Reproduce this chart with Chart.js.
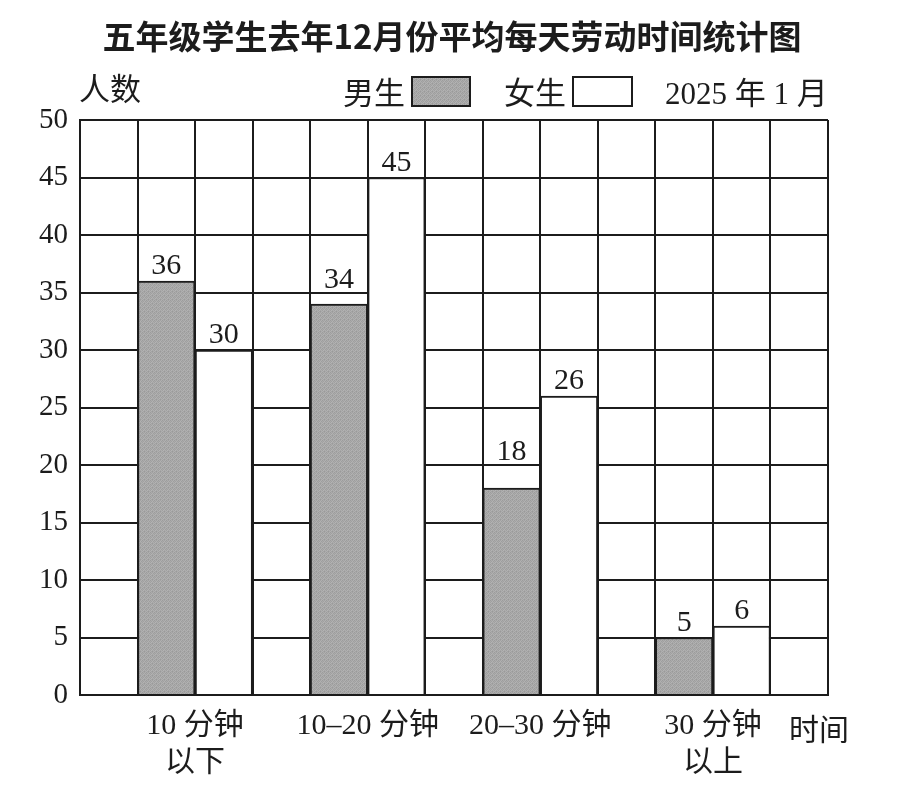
<!DOCTYPE html>
<html>
<head>
<meta charset="utf-8">
<script src="https://cdn.jsdelivr.net/npm/chart.js@4.4.1/dist/chart.umd.min.js"></script>
<style>
  html, body { margin: 0; padding: 0; background: #fff; }
  #wrap { width: 921px; height: 793px; }
</style>
</head>
<body>
<div id="wrap"><canvas id="laborChart" width="921" height="793"></canvas></div>
<script>
// Data
const categories = [['10 分钟', '以下'], '10–20 分钟', '20–30 分钟', ['30 分钟', '以上']];
const boys = [36, 34, 18, 5];
const girls = [30, 45, 26, 6];
const yMax = 50;
const yStep = 5;

const titleText = '五年级学生去年12月份平均每天劳动时间统计图';
const yAxisName = '人数';
const xAxisName = '时间';
const dateText = '2025 年 1 月';

// each group takes 3 grid columns: boy, girl, gap (first column is empty)
const boyPoints = boys.map((v, i) => ({ x: 1.5 + 3 * i, y: v }));
const girlPoints = girls.map((v, i) => ({ x: 2.5 + 3 * i, y: v }));
const labelAt = {};
categories.forEach((c, i) => { labelAt[2 + 3 * i] = c; });

const INK = '#1c1c1c';
const serif = '"Liberation Serif", "Noto Sans CJK SC", serif';

// small fixed halftone tile for the grey bars
function makeGray() {
    const tile = document.createElement('canvas');
    tile.width = 4; tile.height = 4;
    const t = tile.getContext('2d');
    const shades = ['#a2a2a2', '#b0b0b0', '#9c9c9c', '#acacac',
                    '#b2b2b2', '#9e9e9e', '#aaaaaa', '#a0a0a0',
                    '#a6a6a6', '#aeaeae', '#a0a0a0', '#b4b4b4',
                    '#9a9a9a', '#a8a8a8', '#b0b0b0', '#a4a4a4'];
    shades.forEach((s, i) => { t.fillStyle = s; t.fillRect(i % 4, Math.floor(i / 4), 1, 1); });
    return document.getElementById('laborChart').getContext('2d').createPattern(tile, 'repeat');
}
const GRAY = makeGray();

// header: title, 人数, legend with boxes after the text, date
const headerPlugin = {
    id: 'header',
    afterDraw(chart) {
        const c = chart.ctx;
        c.save();
        c.fillStyle = INK;
        c.font = 'bold 33px "Noto Sans CJK SC"';
        c.textAlign = 'center';
        c.textBaseline = 'middle';
        c.fillText(titleText, 452, 36);

        c.font = '31px ' + serif;
        c.textBaseline = 'alphabetic';
        c.textAlign = 'left';
        c.fillText(yAxisName, 79, 100);

        c.textAlign = 'right';
        c.fillText(chart.data.datasets[0].label, 405, 104);
        c.fillText(chart.data.datasets[1].label, 566, 104);

        c.lineWidth = 2;
        c.strokeStyle = INK;
        c.fillStyle = GRAY;
        c.fillRect(412, 77, 58, 29);
        c.strokeRect(412, 77, 58, 29);
        c.fillStyle = '#fff';
        c.fillRect(573, 77, 59, 29);
        c.strokeRect(573, 77, 59, 29);

        c.fillStyle = INK;
        c.textAlign = 'left';
        c.fillText(dateText, 665, 104);

        // x axis name at the right end
        const x = chart.scales.x;
        c.textAlign = 'center';
        c.font = '30px ' + serif;
        c.fillText(xAxisName, x.getPixelForValue(13) - 9, 740);
        c.restore();
    }
};

// numbers above each bar, lifted above a grid line when they would cross it
const valuePlugin = {
    id: 'values',
    afterDatasetsDraw(chart) {
        const c = chart.ctx;
        const y = chart.scales.y;
        const lines = [];
        for (let v = 0; v <= yMax; v += yStep) lines.push(y.getPixelForValue(v));
        c.save();
        c.fillStyle = INK;
        c.font = '30px ' + serif;
        c.textAlign = 'center';
        c.textBaseline = 'alphabetic';
        chart.data.datasets.forEach((ds, di) => {
            chart.getDatasetMeta(di).data.forEach((bar, i) => {
                let base = bar.y - 7;
                const hit = lines.find(ly => ly < bar.y - 2 && ly > base - 22);
                if (hit !== undefined) base = hit - 5;
                c.fillText(String(ds.data[i].y), bar.x, base);
            });
        });
        c.restore();
    }
};

const chartConfig = {
    type: 'bar',
    data: {
        datasets: [{
            label: '男生',
            data: boyPoints,
            backgroundColor: GRAY,
            borderColor: INK,
            borderWidth: 2,
            grouped: false,
            barPercentage: 1,
            categoryPercentage: 1,
        }, {
            label: '女生',
            data: girlPoints,
            backgroundColor: '#ffffff',
            borderColor: INK,
            borderWidth: 2,
            grouped: false,
            barPercentage: 1,
            categoryPercentage: 1,
        }],
    },
    options: {
        responsive: false,
        animation: false,
        layout: { padding: { top: 120, right: 93, left: 0, bottom: 0 } },
        plugins: {
            legend: { display: false },
            title: { display: false },
            tooltip: { enabled: false },
        },
        scales: {
            x: {
                type: 'linear',
                min: 0,
                max: 13,
                offset: false,
                grid: { offset: false, color: INK, lineWidth: 2, drawTicks: false },
                border: { color: INK, width: 2 },
                ticks: {
                    stepSize: 1,
                    autoSkip: false,
                    maxRotation: 0,
                    padding: 12,
                    color: INK,
                    font: { family: serif, size: 30, lineHeight: 1.25 },
                    callback: (v) => labelAt[v] || '',
                },
                afterFit: (s) => { s.height = 98; },
            },
            y: {
                min: 0,
                max: yMax,
                grid: { color: INK, lineWidth: 2, drawTicks: false },
                border: { color: INK, width: 2 },
                ticks: {
                    stepSize: yStep,
                    padding: 12,
                    color: INK,
                    font: { family: serif, size: 29 },
                },
                afterFit: (s) => { s.width = 80; },
            },
        },
    },
    plugins: [headerPlugin, valuePlugin],
};

const chart = new Chart(document.getElementById('laborChart').getContext('2d'), chartConfig);
</script>
</body>
</html>
